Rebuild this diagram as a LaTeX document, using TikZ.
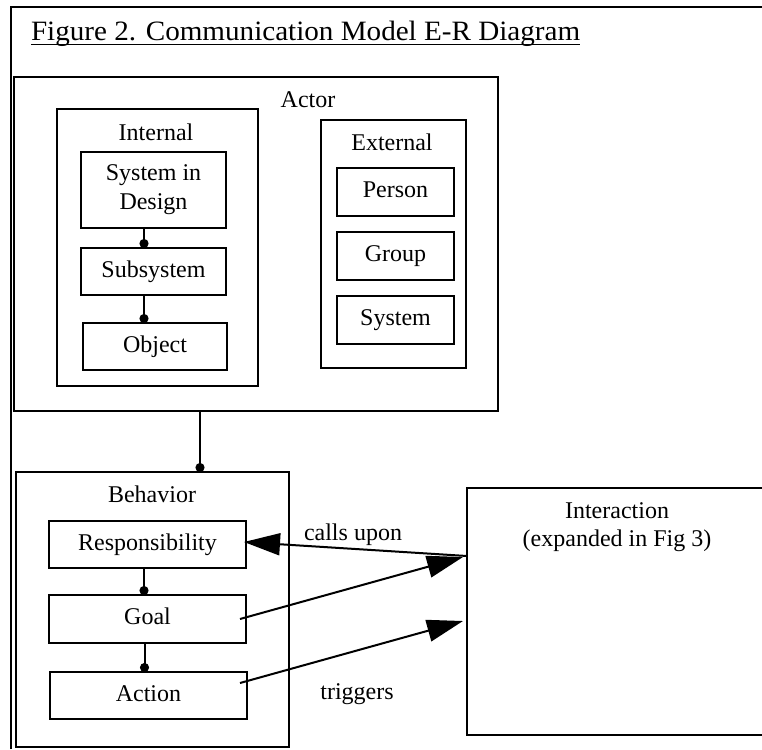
\documentclass[tikz,border=0pt]{standalone}
\usepackage{fontspec}
\setmainfont{Liberation Serif}
\usetikzlibrary{arrows.meta,calc}
\begin{document}
\begin{tikzpicture}[x=1pt,y=-1pt,
  every node/.style={font=\fontsize{24}{29}\selectfont, inner sep=0pt, outer sep=0pt},
  frame/.style={draw, line width=2pt},
  box/.style={draw, line width=2pt, text height=16.8pt, text depth=5.3pt},
  lbl/.style={anchor=base},
  link/.style={line width=2pt, -{Circle[length=9pt]}},
  arr/.style={line width=2pt, -{Triangle[length=36pt,width=22pt]}}
]
\useasboundingbox (0,0) rectangle (762,749);
\fill[white] (-20,-20) rectangle (790,780);

% outer frame (continues beyond the right and bottom edges)
\draw[line width=2pt] (11,749) -- (11,7) -- (762,7);

% title
\node[anchor=base west, font=\fontsize{28}{32}\selectfont] (title) at (31,40.7)
  {\scalebox{1.04}[1]{Figure 2. Communication Model E-R Diagram}};
\draw[line width=1.3pt] ([yshift=-3.5pt]title.base west) -- ([yshift=-3.5pt]title.base east);

% Actor
\node[frame, minimum width=484pt, minimum height=334pt] (actor) at (256,244) {};
\node[lbl] (actorlbl) at (308,108) {Actor};

% Internal
\node[frame, minimum width=201pt, minimum height=277pt] (internal) at (157.5,247.5) {};
\node[lbl] (internallbl) at (156,140) {Internal};
\node[frame, minimum width=145pt, minimum height=76pt, align=center] (sid) at (153.5,190) {System in\\Design};
\node[box, minimum width=145pt, minimum height=47pt] (sub) at (153.5,271.5) {Subsystem};
\node[box, minimum width=144pt, minimum height=47pt] (obj) at (155,346.5) {Object};
\draw[link] ([xshift=-9.5pt]sid.south) -- ([xshift=-9.5pt]sub.north);
\draw[link] ([xshift=-9.5pt]sub.south) -- ([xshift=-11pt]obj.north);

% External
\node[frame, minimum width=145pt, minimum height=248pt] (external) at (393.5,244) {};
\node[lbl] (externallbl) at (392,150.7) {External};
\node[box, minimum width=117pt, minimum height=48pt] (person) at (395.5,192) {Person};
\node[box, minimum width=117pt, minimum height=48pt] (group) at (395.5,256) {Group};
\node[box, minimum width=117pt, minimum height=48pt] (system) at (395.5,320) {System};

% Behavior
\node[frame, minimum width=273pt, minimum height=275pt] (behav) at (152.5,609.5) {};
\node[lbl] (behavlbl) at (152,502) {Behavior};
\node[box, minimum width=197pt, minimum height=47pt] (resp) at (147.5,544.5) {Responsibility};
\node[box, minimum width=197pt, minimum height=48pt] (goal) at (147.5,619) {Goal};
\node[box, minimum width=197pt, minimum height=47pt] (action) at (148.5,695.5) {Action};
\draw[link] ([xshift=-3.5pt]resp.south) -- ([xshift=-3.5pt]goal.north);
\draw[link] ([xshift=-3pt]goal.south) -- ([xshift=-4pt]action.north);

\draw[link] ([xshift=-56pt]actor.south) -- ([xshift=47.5pt]behav.north);

% Interaction (right side lies beyond the picture)
\node[minimum width=295pt, minimum height=247pt] (inter) at (614.5,611.5) {};
\draw[line width=2pt] (inter.north east) -- (inter.north west) -- (inter.south west) -- (inter.south east);
\node[lbl] (interlbl) at (617,518.3) {Interaction};
\node[lbl] (interlbl2) at (617,546) {(expanded in Fig 3)};

% arrows
\draw[arr] ($(inter.north west)+(0,68)$) -- ($(resp.east)+(-2,-2.5)$);
\draw[arr] ($(goal.east)+(-6,0)$) -- ($(inter.north west)+(-4,69)$);
\draw[arr] ($(action.east)+(-7,-12.5)$) -- ($(inter.north west)+(-4,133)$);
\node[lbl] (callslbl) at (353,540.7) {calls upon};
\node[lbl] (triglbl) at (357,699.3) {triggers};
\end{tikzpicture}
\end{document}
